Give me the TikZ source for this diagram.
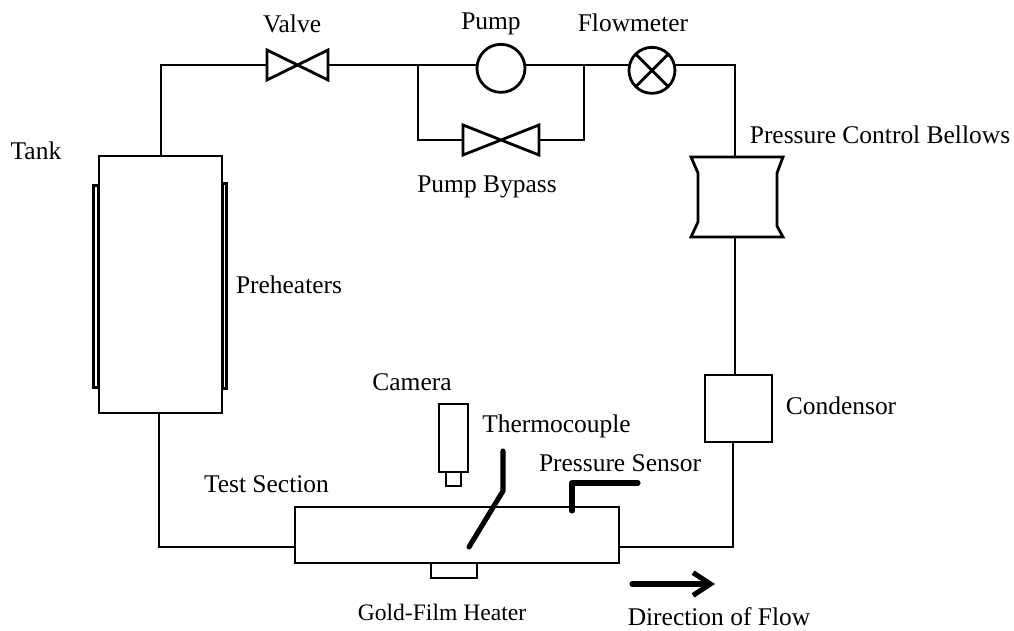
\documentclass[tikz,border=0pt]{standalone}
\usepackage{fontspec}
\setmainfont{Liberation Serif}
\usetikzlibrary{positioning, arrows.meta}

\tikzset{
  box/.style={draw, rectangle, inner sep=0pt, outer sep=0pt},
  valve/.style={rectangle, inner sep=0pt, outer sep=0pt},
  meter/.style={draw, circle, inner sep=0pt, outer sep=0pt},
  thin probe/.style={line width=3.8pt, line cap=round, line join=round}
}
\newcommand{\valvetie}[1]{\draw (#1.north west) -- (#1.south east) -- (#1.north east) -- (#1.south west) -- cycle;}

\begin{document}
\begin{tikzpicture}[x=0.75pt, y=-0.75pt, on grid, line width=2.1pt, font=\fontsize{19.1pt}{22pt}\selectfont]
      \useasboundingbox (0,0) rectangle (1014,631);

      % heaters go under the tank
      \node[box, minimum width=3.5pt, minimum height=152pt] (heatl) at (96,286.5) {};
      \node[box, minimum width=3.5pt, minimum height=154pt] (heatr) at (224.5,286) {};
      \node[box, fill=white, minimum width=92.25pt, minimum height=192.75pt] (tank) at (160.5,284.5) {};

      \node[valve, minimum width=45.75pt, minimum height=22.5pt] (v1) at (297.5,65) {};
      \node[meter, minimum size=36pt] (pump) [right=152.6pt of v1, yshift=-2.5pt] {};
      \node[meter, minimum size=34.5pt] (fm) [right=113.25pt of pump, yshift=-1.5pt] {};
      \node[valve, minimum width=57pt, minimum height=22.5pt] (v2) at (501,140) {};

      \node[valve, minimum width=69pt, minimum height=60pt] (bel) at (737,197) {};
      \node[box, minimum size=50.25pt] (cond) at (738.5,408.5) {};
      \node[box, minimum width=243pt, minimum height=42pt] (sec) at (457,535) {};
      \node[box, minimum width=34.5pt, minimum height=11.25pt] (film) at (454,570.5) {};
      \node[box, minimum width=21.75pt, minimum height=51pt] (cam) at (453.5,438) {};
      \node[box, minimum width=11.25pt, minimum height=10.5pt] (lens) at (453.5,479) {};

      \valvetie{v1}
      \valvetie{v2}
      \draw (fm.45) -- (fm.225) (fm.135) -- (fm.315);
      \draw[line join=miter] (bel.north west) -- (bel.north east) -- ++(-6,16) -- (777,226)
            -- (bel.south east) -- (bel.south west) -- ++(7,-15) -- (698,173) -- cycle;

      \coordinate (c1) at (161,65);
      \coordinate (c2) at (418,65);
      \coordinate (c3) at (584,65);
      \coordinate (c4) at (735,65);
      \coordinate (c5) at (733,547);
      \coordinate (c6) at (159,547);

      \draw (tank.north -| c1) -- (c1) -- (v1.west);
      \draw (v1.east) -- (pump.west |- v1.east);
      \draw (pump.east |- v1.east) -- (fm.west |- v1.east);
      \draw (fm.east |- v1.east) -- (c4) -- (bel.north -| c4);
      \draw (c2) |- (v2.west);
      \draw (c3) |- (v2.east);
      \draw (bel.south -| c4) -- (cond.north -| c4);
      \draw (cond.south -| c5) -- (c5) -- (sec.east |- c5);
      \draw (tank.south -| c6) -- (c6) -- (sec.west |- c6);

      % probes in the test section
      \coordinate (t1) at (503,451);
      \coordinate (t2) at (503,491);
      \coordinate (t3) at (469,547);
      \coordinate (p1) at (572,511);
      \coordinate (p2) at (572,483);
      \coordinate (p3) at (638,483);
      \coordinate (a1) at (632,584);
      \coordinate (a2) at (715,584);
      \draw[thin probe] (t1) -- (t2) -- (t3);
      \draw[thin probe] (p1) -- (p2) -- (p3);
      \draw[thin probe, -{Straight Barb[length=13pt, width=17pt]}] (a1) -- (a2);

      \node (lvalve) [above left=30.75pt and 4.1pt of v1] {Valve};
      \node (lpump) [above left=33pt and 7.5pt of pump] {Pump};
      \node (lfm) [above left=36pt and 14.25pt of fm] {Flowmeter};
      \node (lbypass) [below left=35.25pt and 10.5pt of v2] {Pump Bypass};
      \node (ltank) [above left=100pt and 93.4pt of tank] {Tank};
      \node (lheat) [right=96.4pt of tank] {Preheaters};
      \node (lbel) [above right=46.5pt and 107.25pt of bel] {Pressure Control Bellows};
      \node (lcond) [above right=1.9pt and 76.9pt of cond] {Condensor};
      \node (lcam) [above left=42pt and 31.1pt of cam] {Camera};
      \node (ltc) [above right=9pt and 77.25pt of cam] {Thermocouple};
      \node (lsens) [above right=54pt and 122.25pt of sec] {Pressure Sensor};
      \node (lsec) [above left=38.25pt and 142.9pt of sec] {Test Section};
      \node (lfilm) [below left=31.1pt and 9pt of film, font=\fontsize{17.7pt}{22pt}\selectfont] {Gold-Film Heater};
      \node (lflow) [below right=61.5pt and 196.5pt of sec] {Direction of Flow};
    \end{tikzpicture}
\end{document}
